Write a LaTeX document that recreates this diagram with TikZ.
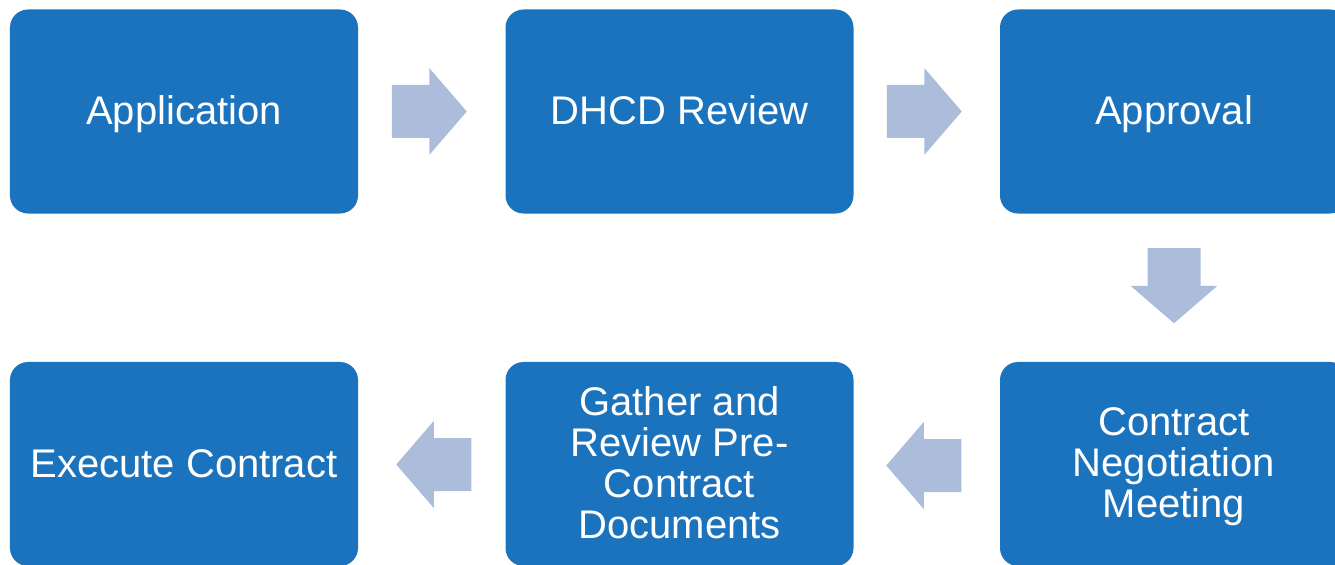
\documentclass[tikz,border=0pt]{standalone}
\usepackage{fontspec}
\setmainfont{Liberation Sans}
\usetikzlibrary{calc}
\definecolor{stepblue}{HTML}{1B73BD}
\definecolor{flowgray}{HTML}{ABBDDB}
% uniform line height so every text line sits on the same grid
\newcommand\linestrut{\rule[-3.75bp]{0pt}{20.5bp}}
\newcommand\tightlines{\lineskiplimit=-100bp\relax\lineskip=0pt\relax}
\begin{document}
\begin{tikzpicture}[x=0.5bp,y=-0.5bp,
  stepbox/.style={fill=stepblue, draw=none, rounded corners=9bp,
    minimum width=174bp, minimum height=102bp, text=white,
    align=center, inner sep=0pt,
    font=\fontsize{20bp}{20.5bp}\selectfont\tightlines},
  rarrow/.pic={\fill[flowgray] (-37.5,-26.5) -- (0,-26.5) -- (0,-43.5) -- (37.5,0)
      -- (0,43.5) -- (0,26.5) -- (-37.5,26.5) -- cycle;},
  larrow/.pic={\fill[flowgray] (37.5,-26.5) -- (0,-26.5) -- (0,-43.5) -- (-37.5,0)
      -- (0,43.5) -- (0,26.5) -- (37.5,26.5) -- cycle;},
  darrow/.pic={\fill[flowgray] (-26.5,-37.5) -- (-26.5,0) -- (-43.5,0) -- (0,37.5)
      -- (43.5,0) -- (26.5,0) -- (26.5,-37.5) -- cycle;}
]
\useasboundingbox (0,0) rectangle (1335,565);
\clip (0,0) rectangle (1335,565);

% process steps
\node[stepbox] (app)  at (184,111.5)   {\linestrut Application};
\node[stepbox] (rev)  at (679.5,111.5) {\linestrut DHCD Review};
\node[stepbox] (appr) at (1174,111.5)  {\linestrut Approval};
\node[stepbox] (neg)  at (1174,464)    {\linestrut Contract\\\linestrut Negotiation\\\linestrut Meeting};
\node[stepbox] (pre)  at (679.5,464)   {\linestrut Gather and\\\linestrut Review Pre-\\\linestrut Contract\\\linestrut Documents};
\node[stepbox] (exe)  at (184,464)     {\linestrut Execute Contract};

% flow arrows between steps
\path ($(app.east)!0.5!(rev.west)$) +(-2.5,0) pic {rarrow};
\path ($(rev.east)!0.5!(appr.west)$) +(-2.5,0) pic {rarrow};
\path ($(appr.south)!0.5!(neg.north)$) +(0,-2) pic {darrow};
\path ($(neg.west)!0.5!(pre.east)$) +(-3,1.5) pic {larrow};
\path ($(pre.west)!0.5!(exe.east)$) +(2,0.5) pic {larrow};
\end{tikzpicture}
\end{document}
